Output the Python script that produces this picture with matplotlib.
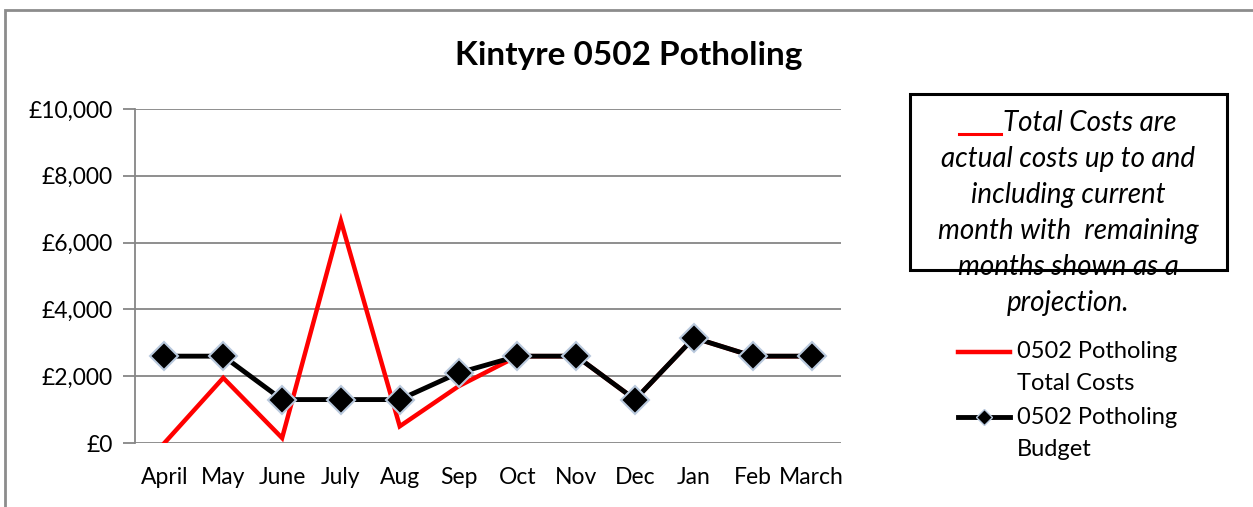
import matplotlib.pyplot as plt
import numpy as np
from matplotlib.lines import Line2D
from matplotlib.patches import Rectangle
from matplotlib.ticker import FuncFormatter

plt.rcParams['font.family'] = ['Lato', 'DejaVu Sans']

months = ["April", "May", "June", "July", "Aug", "Sep", "Oct", "Nov", "Dec", "Jan", "Feb", "March"]
total_costs = [0, 1950, 150, 6650, 500, 1700, 2600, 2600, 1300, 3150, 2600, 2600]
budget = [2600, 2600, 1300, 1300, 1300, 2100, 2600, 2600, 1300, 3150, 2600, 2600]
note_lines = ["actual costs up to and", "including current", "month with  remaining",
              "months shown as a", "projection."]

W, H = 1253, 507
fig = plt.figure(figsize=(W / 100, H / 100), dpi=100)

def px(x, y):
    # pixel position (from top-left) -> figure fraction
    return x / W, 1 - y / H

ax = fig.add_axes([135 / W, 1 - 443 / H, (841 - 135) / W, (443 - 109) / H])
x = np.arange(len(months))

ax.plot(x, total_costs, color="#ff0000", lw=3.2, zorder=3, solid_joinstyle="miter")
ax.plot(x, budget, color="black", lw=3.5, marker="D", ms=14, mfc="black",
        mec="#b9c9dd", mew=1.5, zorder=4)

ax.set_xlim(-0.5, len(months) - 0.5)
ax.set_ylim(0, 10000)
ax.set_yticks(np.arange(0, 10001, 2000))
ax.yaxis.set_major_formatter(FuncFormatter(lambda v, p: "£{:,.0f}".format(v)))
ax.set_xticks(x)
ax.set_xticklabels(months)
ax.tick_params(axis="y", length=9, width=1.3, color="#868686", labelsize=16.5, pad=7)
ax.tick_params(axis="x", length=0, labelsize=16.5, pad=17)
ax.grid(axis="y", color="#868686", lw=1.3)
ax.set_axisbelow(True)
for s in ["top", "right", "bottom"]:
    ax.spines[s].set_visible(False)
ax.spines["left"].set_color("#868686")
ax.spines["left"].set_linewidth(1.3)

# title
fig.text(*px(629, 55), "Kintyre 0502 Potholing", ha="center", va="center",
         fontsize=24, fontweight="bold")

# outer chart frame
fig.add_artist(Rectangle(px(5, 520), (W + 10) / W, 510 / H, transform=fig.transFigure,
                         fill=False, ec="#8c8c8c", lw=2))

# note box
fig.add_artist(Rectangle(px(910, 270), (1227 - 910) / W, (270 - 94) / H,
                         transform=fig.transFigure, fill=False, ec="black", lw=2.2, zorder=5))
fig.add_artist(Line2D([959 / W, 1001 / W], [1 - 134 / H] * 2, color="#ff0000", lw=2.2))
fig.text(*px(1003, 123), "Total Costs are", ha="left", va="center",
         fontsize=20, style="italic")
for i, line in enumerate(note_lines):
    fig.text(*px(1068, 159 + 36 * i), line, ha="center", va="center",
             fontsize=20, style="italic")

# legend
fig.add_artist(Line2D([958 / W, 1010 / W], [1 - 352 / H] * 2, color="#ff0000", lw=3.2))
fig.add_artist(Line2D([958 / W, 1010 / W], [1 - 417 / H] * 2, color="black", lw=3.5))
fig.add_artist(Line2D([984 / W], [1 - 417 / H], marker="D", ms=8, mfc="black",
                      mec="#b9c9dd", mew=1))
fig.text(*px(1017, 352), "0502 Potholing", ha="left", va="center", fontsize=17)
fig.text(*px(1017, 383), "Total Costs", ha="left", va="center", fontsize=17)
fig.text(*px(1017, 417), "0502 Potholing", ha="left", va="center", fontsize=17)
fig.text(*px(1017, 449), "Budget", ha="left", va="center", fontsize=17)

fig.savefig("out.png", dpi=100)
